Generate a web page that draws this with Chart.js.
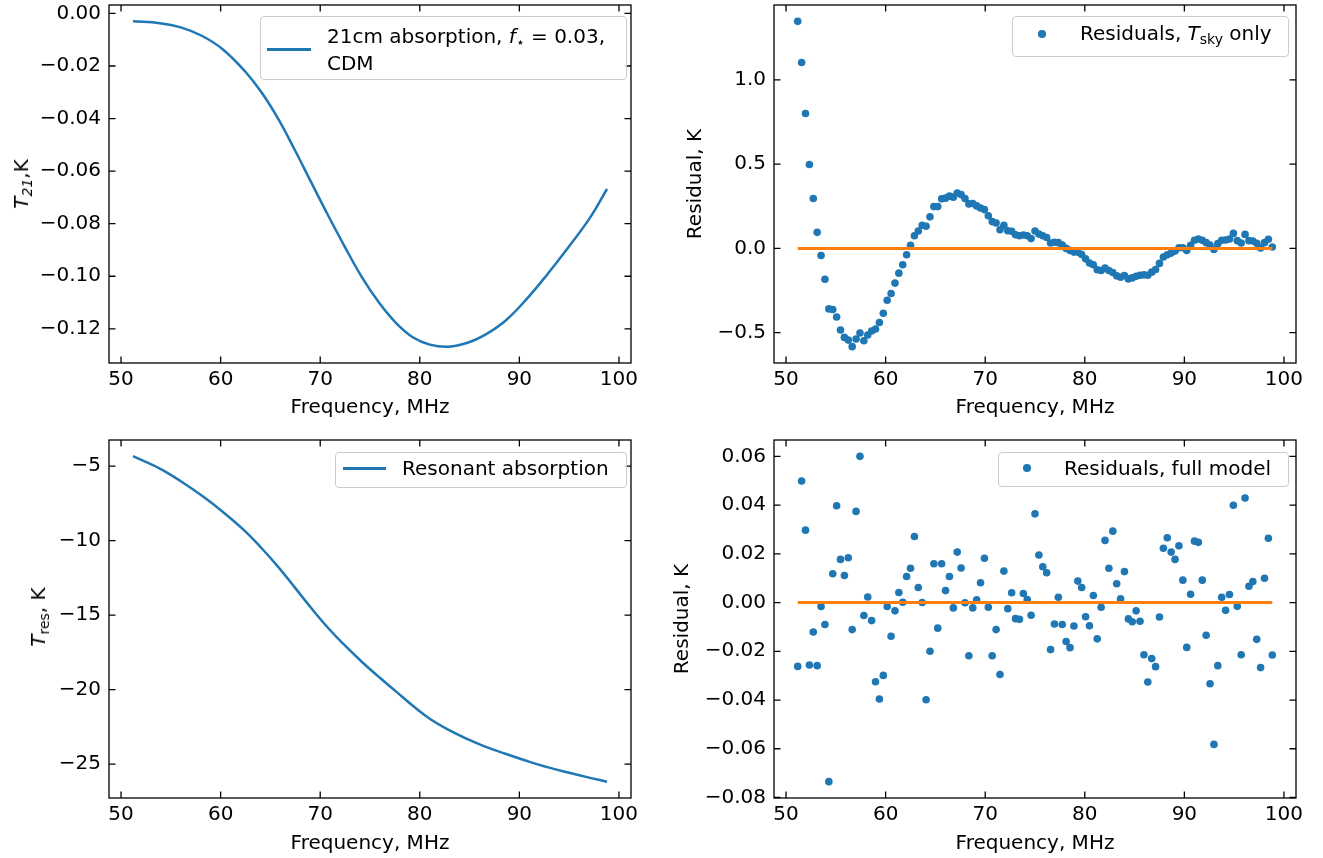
<!DOCTYPE html>
<html>
<head>
<meta charset="utf-8">
<script src="https://cdn.jsdelivr.net/npm/chart.js@4"></script>
<style>
  body { margin: 0; background: #fff; width: 1323px; height: 858px; position: relative; overflow: hidden; font-family: 'DejaVu Sans', sans-serif; }
  canvas { position: absolute; }
  .legend { position: absolute; box-sizing: border-box; background: rgba(255,255,255,0.8); border: 1px solid #ccc; border-radius: 4px; }
  .legend .ln { position: absolute; height: 2.5px; background: #1f77b4; }
  .legend .dot { position: absolute; width: 7.6px; height: 7.6px; border-radius: 50%; background: #1f77b4; }
  .legend .txt { position: absolute; white-space: nowrap; font-size: 20px; line-height: 25px; color: #000; }
  .ytitle { position: absolute; white-space: nowrap; font-size: 20px; line-height: 24px; color: #000; transform: translate(-50%, -50%) rotate(-90deg); }
  .sub { font-size: 70%; position: relative; top: 0.3em; }
</style>
</head>
<body>
<canvas id="c-t21" width="660" height="430" style="left:0;top:0"></canvas>
<canvas id="c-sky" width="663" height="430" style="left:660px;top:0"></canvas>
<canvas id="c-res" width="660" height="428" style="left:0;top:430px"></canvas>
<canvas id="c-full" width="663" height="428" style="left:660px;top:430px"></canvas>

<div class="ytitle" style="left:22px;top:184px"><i>T</i><span class="sub"><i>21</i></span>,K</div>
<div class="ytitle" style="left:39px;top:617px"><i>T</i><span class="sub">res</span>, K</div>

<div class="legend" style="left:260px;top:16px;width:367px;height:64px">
  <div class="ln" style="left:6px;top:31px;width:44px"></div>
  <div class="txt" style="left:66px;top:7px">21cm absorption, <i>f</i><span class="sub">⋆</span> = 0.03,<br>CDM</div>
</div>
<div class="legend" style="left:1012px;top:16px;width:277px;height:41px">
  <div class="dot" style="left:25px;top:13px"></div>
  <div class="txt" style="left:67px;top:4px">Residuals, <i>T</i><span class="sub">sky</span> only</div>
</div>
<div class="legend" style="left:335px;top:452px;width:292px;height:36px">
  <div class="ln" style="left:7px;top:14px;width:43px"></div>
  <div class="txt" style="left:66px;top:3px">Resonant absorption</div>
</div>
<div class="legend" style="left:998px;top:452px;width:291px;height:35px">
  <div class="dot" style="left:24px;top:11px"></div>
  <div class="txt" style="left:65px;top:3px">Residuals, full model</div>
</div>

<script>
// channel frequencies (MHz) of the residual panels
const freqs = [51.172, 51.563, 51.953, 52.344, 52.734, 53.125, 53.516, 53.906, 54.297, 54.688,
  55.078, 55.469, 55.859, 56.250, 56.641, 57.031, 57.422, 57.813, 58.203, 58.594,
  58.984, 59.375, 59.766, 60.156, 60.547, 60.938, 61.328, 61.719, 62.109, 62.500,
  62.891, 63.281, 63.672, 64.063, 64.453, 64.844, 65.234, 65.625, 66.016, 66.406,
  66.797, 67.188, 67.578, 67.969, 68.359, 68.750, 69.141, 69.531, 69.922, 70.313,
  70.703, 71.094, 71.484, 71.875, 72.266, 72.656, 73.047, 73.438, 73.828, 74.219,
  74.609, 75.000, 75.391, 75.781, 76.172, 76.563, 76.953, 77.344, 77.734, 78.125,
  78.516, 78.906, 79.297, 79.688, 80.078, 80.469, 80.859, 81.250, 81.641, 82.031,
  82.422, 82.813, 83.203, 83.594, 83.984, 84.375, 84.766, 85.156, 85.547, 85.938,
  86.328, 86.719, 87.109, 87.500, 87.891, 88.281, 88.672, 89.063, 89.453, 89.844,
  90.234, 90.625, 91.016, 91.406, 91.797, 92.188, 92.578, 92.969, 93.359, 93.750,
  94.141, 94.531, 94.922, 95.313, 95.703, 96.094, 96.484, 96.875, 97.266, 97.656,
  98.047, 98.438, 98.828];

// residuals, T_sky only (K)
const resSky = [1.347, 1.103, 0.800, 0.498, 0.296, 0.095, -0.042, -0.183, -0.359, -0.363,
  -0.407, -0.484, -0.528, -0.544, -0.583, -0.538, -0.502, -0.548, -0.514, -0.490,
  -0.478, -0.440, -0.385, -0.308, -0.268, -0.206, -0.147, -0.097, -0.038, 0.018,
  0.075, 0.103, 0.137, 0.131, 0.187, 0.248, 0.248, 0.294, 0.298, 0.310,
  0.304, 0.329, 0.319, 0.296, 0.264, 0.266, 0.252, 0.240, 0.230, 0.194,
  0.159, 0.151, 0.111, 0.137, 0.105, 0.101, 0.081, 0.075, 0.079, 0.075,
  0.058, 0.103, 0.085, 0.075, 0.065, 0.032, 0.036, 0.034, 0.020, 0.000,
  -0.012, -0.022, -0.022, -0.036, -0.062, -0.087, -0.097, -0.127, -0.131, -0.117,
  -0.131, -0.143, -0.163, -0.171, -0.161, -0.181, -0.175, -0.165, -0.159, -0.157,
  -0.159, -0.141, -0.125, -0.089, -0.051, -0.038, -0.028, -0.016, 0.004, 0.004,
  -0.012, 0.018, 0.048, 0.056, 0.048, 0.034, 0.020, -0.006, 0.028, 0.048,
  0.050, 0.056, 0.089, 0.046, 0.032, 0.083, 0.046, 0.044, 0.030, 0.002,
  0.034, 0.054, 0.008];

// residuals, full model (K)
const resFull = [-0.0262, 0.0499, 0.0297, -0.0256, -0.0121, -0.0259, -0.0016, -0.0090, -0.0735, 0.0118,
  0.0397, 0.0177, 0.0111, 0.0184, -0.0111, 0.0374, 0.0600, -0.0053, 0.0023, -0.0074,
  -0.0325, -0.0396, -0.0299, -0.0016, -0.0138, -0.0034, 0.0041, 0.0001, 0.0107, 0.0141,
  0.0271, 0.0062, 0.0000, -0.0399, -0.0200, 0.0159, -0.0105, 0.0159, 0.0049, 0.0107,
  -0.0022, 0.0207, 0.0142, -0.0001, -0.0218, -0.0022, 0.0011, 0.0081, 0.0182, -0.0019,
  -0.0218, -0.0111, -0.0295, 0.0129, -0.0025, 0.0040, -0.0066, -0.0069, 0.0037, 0.0012,
  -0.0052, 0.0364, 0.0195, 0.0147, 0.0122, -0.0193, -0.0088, 0.0022, -0.0090, -0.0160,
  -0.0185, -0.0096, 0.0088, 0.0062, -0.0058, -0.0095, 0.0029, -0.0149, -0.0019, 0.0255,
  0.0141, 0.0293, 0.0077, 0.0015, 0.0127, -0.0067, -0.0079, -0.0034, -0.0077, -0.0214,
  -0.0326, -0.0230, -0.0263, -0.0059, 0.0223, 0.0266, 0.0207, 0.0177, 0.0233, 0.0092,
  -0.0184, 0.0034, 0.0252, 0.0247, 0.0092, -0.0134, -0.0333, -0.0582, -0.0259, 0.0022,
  -0.0032, 0.0033, 0.0399, -0.0015, -0.0214, 0.0429, 0.0067, 0.0086, -0.0151, -0.0267,
  0.0100, 0.0264, -0.0215];

// smooth model curves, read at these frequencies
const curveFreqs = [51.2, 53.9, 56.0, 58.1, 60.2, 62.4, 64.1, 65.8, 67.4, 69.1, 70.8, 72.5, 74.2,
  75.9, 77.6, 79.3, 81.0, 82.9, 84.8, 86.5, 88.6, 90.7, 92.8, 95.0, 97.1, 98.8];
const t21 = [-0.0030, -0.0037, -0.0053, -0.0085, -0.0136, -0.0218, -0.0300, -0.0402, -0.0516, -0.0643,
  -0.0769, -0.0890, -0.1004, -0.1100, -0.1177, -0.1232, -0.1260, -0.1268, -0.1253, -0.1224,
  -0.1169, -0.1088, -0.0993, -0.0886, -0.0777, -0.0668];
const tRes = [-4.33, -5.16, -6.01, -6.97, -8.05, -9.32, -10.49, -11.77, -13.10, -14.52,
  -15.86, -17.05, -18.14, -19.15, -20.11, -21.08, -21.95, -22.70, -23.32, -23.80,
  -24.30, -24.77, -25.20, -25.58, -25.92, -26.18];

// tick values
const freqTicks = [50, 60, 70, 80, 90, 100];
const t21Ticks = [0, -0.02, -0.04, -0.06, -0.08, -0.10, -0.12];
const skyTicks = [1.0, 0.5, 0.0, -0.5];
const resTicks = [-5, -10, -15, -20, -25];
const fullTicks = [0.06, 0.04, 0.02, 0, -0.02, -0.04, -0.06, -0.08];

const BLUE = '#1f77b4';
const ORANGE = '#ff7f0e';
const FONT = { family: "'DejaVu Sans', sans-serif", size: 20 };
const TICK_LEN = 6.5;

const fmt = (d) => (v) => (v < 0 ? '\u2212' : '') + Math.abs(v).toFixed(d);
const pts = (xs, ys) => xs.map((x, i) => ({ x: x, y: ys[i] }));

// box around the plot area, with inward ticks on all four sides
const frameTicks = {
    id: 'frameTicks',
    afterDatasetsDraw(chart) {
        const { ctx, chartArea: a, scales: { x, y } } = chart;
        ctx.save();
        ctx.strokeStyle = '#000';
        ctx.lineWidth = 1.3;
        ctx.beginPath();
        x.ticks.forEach(t => {
            const p = x.getPixelForValue(t.value);
            ctx.moveTo(p, a.bottom); ctx.lineTo(p, a.bottom - TICK_LEN);
            ctx.moveTo(p, a.top); ctx.lineTo(p, a.top + TICK_LEN);
        });
        y.ticks.forEach(t => {
            const p = y.getPixelForValue(t.value);
            ctx.moveTo(a.left, p); ctx.lineTo(a.left + TICK_LEN, p);
            ctx.moveTo(a.right, p); ctx.lineTo(a.right - TICK_LEN, p);
        });
        ctx.stroke();
        ctx.strokeRect(a.left, a.top, a.right - a.left, a.bottom - a.top);
        ctx.restore();
    }
};

function xAxis(height) {
    return {
        type: 'linear', min: 48.79, max: 101.21,
        afterBuildTicks: s => { s.ticks = freqTicks.map(v => ({ value: v })); },
        afterFit: s => { s.height = height; s.paddingLeft = 0; s.paddingRight = 0; },
        grid: { display: false, drawTicks: false },
        border: { display: false },
        ticks: { font: FONT, color: '#000', padding: 5, maxRotation: 0, autoSkip: false, callback: fmt(0) },
        title: { display: true, text: 'Frequency, MHz', font: FONT, color: '#000', padding: 0 }
    };
}

function yAxis(min, max, ticks, digits, width, title, titlePad) {
    return {
        type: 'linear', min: min, max: max,
        afterBuildTicks: s => { s.ticks = ticks.map(v => ({ value: v })); },
        afterFit: s => { s.width = width; s.paddingTop = 0; s.paddingBottom = 0; },
        grid: { display: false, drawTicks: false },
        border: { display: false },
        ticks: { font: FONT, color: '#000', padding: 8, autoSkip: false, callback: fmt(digits) },
        title: { display: !!title, text: title || '', font: FONT, color: '#000', padding: { top: titlePad, bottom: 0 } }
    };
}

function makeChart(id, datasets, scales, padding) {
    return new Chart(document.getElementById(id), {
        type: 'scatter',
        data: { datasets: datasets },
        options: {
            responsive: false,
            animation: false,
            events: [],
            layout: { padding: padding, autoPadding: false },
            scales: scales,
            plugins: { legend: { display: false }, tooltip: { enabled: false } }
        },
        plugins: [frameTicks]
    });
}

const curve = (data) => ({
    type: 'line', data: data, borderColor: BLUE, borderWidth: 2.5,
    pointRadius: 0, tension: 0.4, fill: false
});
const dots = (data) => ({
    data: data, backgroundColor: BLUE, borderWidth: 0, pointRadius: 3.8, order: 2
});
const zeroLine = () => ({
    type: 'line', data: freqs.map(f => ({ x: f, y: 0 })), borderColor: ORANGE, borderWidth: 3,
    pointRadius: 0, fill: false, order: 1
});

makeChart('c-t21', [curve(pts(curveFreqs, t21))], {
    x: xAxis(57),
    y: yAxis(-0.1330, 0.0032, t21Ticks, 2, 109, null, 0)
}, { top: 5, right: 29, bottom: 10, left: 0 });

makeChart('c-sky', [zeroLine(), dots(pts(freqs, resSky))], {
    x: xAxis(57),
    y: yAxis(-0.680, 1.444, skyTicks, 1, 114, 'Residual, K', 24)
}, { top: 5, right: 27, bottom: 10, left: 0 });

makeChart('c-res', [curve(pts(curveFreqs, tRes))], {
    x: xAxis(58),
    y: yAxis(-27.27, -3.24, resTicks, 0, 109, null, 0)
}, { top: 10, right: 29, bottom: 2, left: 0 });

makeChart('c-full', [zeroLine(), dots(pts(freqs, resFull))], {
    x: xAxis(58),
    y: yAxis(-0.0802, 0.0667, fullTicks, 2, 114, 'Residual, K', 11)
}, { top: 10, right: 27, bottom: 2, left: 0 });
</script>
</body>
</html>
